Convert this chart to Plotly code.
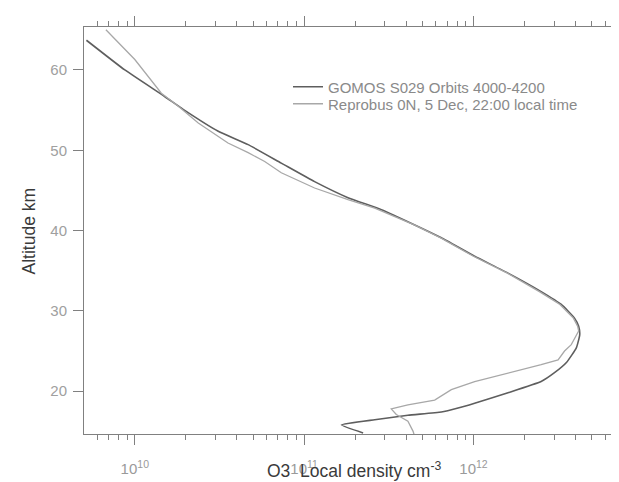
import plotly.graph_objects as go

# GOMOS S029 profile: altitude (km) and O3 local density (cm^-3)
gomos_alt = [63.7, 60.0, 56.7, 55.1, 52.4, 50.7, 48.4, 46.1, 44.1, 42.6, 40.7, 39.1,
             36.8, 34.7, 32.4, 30.8, 29.1, 28.1, 27.0, 25.4, 23.6, 22.3, 21.2, 19.8,
             18.5, 17.9, 17.4, 17.0, 16.45, 15.8, 14.8]
gomos_dens = [5.18e9, 8.73e9, 1.50e10, 1.93e10, 3.09e10, 4.67e10, 7.33e10, 1.153e11,
              1.815e11, 2.86e11, 4.50e11, 6.46e11, 1.016e12, 1.60e12, 2.51e12, 3.30e12,
              3.95e12, 4.18e12, 4.24e12, 4.05e12, 3.55e12, 3.01e12, 2.51e12, 1.60e12,
              1.016e12, 8.11e11, 6.46e11, 4.10e11, 2.61e11, 1.66e11, 2.23e11]

# Reprobus model profile
repro_alt = [65.0, 61.3, 57.1, 55.5, 53.4, 50.9, 49.7, 48.6, 47.2, 45.3, 43.85, 42.8,
             40.7, 39.1, 36.8, 34.7, 32.4, 30.8, 29.1, 28.1, 27.5, 25.8, 25.0, 23.9,
             23.3, 22.3, 21.2, 20.2, 18.9, 18.3, 17.8, 17.1, 16.25, 15.0, 14.6]
repro_dens = [6.75e9, 1.0e10, 1.435e10, 1.80e10, 2.37e10, 3.55e10, 4.67e10, 5.85e10,
              7.33e10, 1.153e11, 1.815e11, 2.61e11, 4.47e11, 6.40e11, 1.0e12, 1.585e12,
              2.45e12, 3.24e12, 3.89e12, 4.12e12, 4.18e12, 3.78e12, 3.45e12, 3.16e12,
              2.51e12, 1.60e12, 1.016e12, 7.40e11, 5.90e11, 4.10e11, 3.27e11, 3.50e11,
              4.10e11, 4.40e11, 4.46e11]

x_major_vals = [1e10, 1e11, 1e12]
x_major_text = ["10<sup>10</sup>", "10<sup>11</sup>", "10<sup>12</sup>"]
x_minor_vals = [5e9, 6e9, 7e9, 8e9, 9e9,
                2e10, 3e10, 4e10, 5e10, 6e10, 7e10, 8e10, 9e10,
                2e11, 3e11, 4e11, 5e11, 6e11, 7e11, 8e11, 9e11,
                2e12, 3e12, 4e12, 5e12, 6e12, 7e12]
y_ticks = [20, 30, 40, 50, 60]

names = ["GOMOS S029 Orbits 4000-4200", "Reprobus 0N, 5 Dec, 22:00 local time"]

FONT = "Liberation Sans, Arial, sans-serif"
L, R, T, B = 76, 4, 19, 56
PW, PH = 619 - L - R, 482 - T - B

fig = go.Figure()
fig.add_trace(go.Scatter(x=gomos_dens, y=gomos_alt, mode="lines", name=names[0],
                         legend="legend",
                         line=dict(color="#5e5e5e", width=1.6, shape="spline", smoothing=0.4)))
fig.add_trace(go.Scatter(x=repro_dens, y=repro_alt, mode="lines", name=names[1],
                         legend="legend2",
                         line=dict(color="#a8a8a8", width=1.3)))

leg_common = dict(xanchor="left", yanchor="middle", bgcolor="rgba(0,0,0,0)",
                  font=dict(size=15, color="#8a8a8a", family=FONT), itemwidth=30)

fig.update_layout(
    template="none",
    width=619, height=482,
    margin=dict(l=L, r=R, t=T, b=B, pad=0),
    paper_bgcolor="white", plot_bgcolor="white",
    font=dict(family=FONT, color="#999999", size=15),
    showlegend=True,
    legend=dict(x=(280 - L) / PW, y=1 - (79 - T) / PH, **leg_common),
    legend2=dict(x=(280 - L) / PW, y=1 - (96 - T) / PH, **leg_common),
    xaxis=dict(type="log", range=[9.70, 12.883], showgrid=False, zeroline=False,
               automargin=False,
               showline=True, linecolor="#808080", linewidth=1, mirror="ticks",
               ticks="outside", ticklen=10, tickcolor="#808080", tickwidth=1,
               tickvals=x_major_vals, ticktext=x_major_text,
               tickfont=dict(size=15, color="#9a9a9a"), ticklabelstandoff=11,
               minor=dict(tickvals=x_minor_vals, ticks="outside", ticklen=5,
                          tickcolor="#808080", tickwidth=1, showgrid=False)),
    yaxis=dict(range=[14.67, 65.35], showgrid=False, zeroline=False,
               automargin=False,
               showline=True, linecolor="#808080", linewidth=1, mirror="ticks",
               ticks="outside", ticklen=10, tickcolor="#808080", tickwidth=1,
               tickvals=y_ticks, tickfont=dict(size=15, color="#a0a0a0"),
               ticklabelstandoff=3),
    annotations=[
        dict(text="O3  Local density cm<sup>-3</sup>", xref="paper", yref="paper",
             x=0.5, y=-(475 - (T + PH)) / PH, xanchor="center", yanchor="bottom",
             showarrow=False, font=dict(size=17.5, color="#3a3a3a", family=FONT)),
        dict(text="Altitude km", xref="paper", yref="paper",
             x=-(L - 20) / PW, y=0.5, xanchor="center", yanchor="middle",
             textangle=-90, showarrow=False,
             font=dict(size=17.5, color="#3a3a3a", family=FONT)),
    ],
)

fig.write_html("out.html")
